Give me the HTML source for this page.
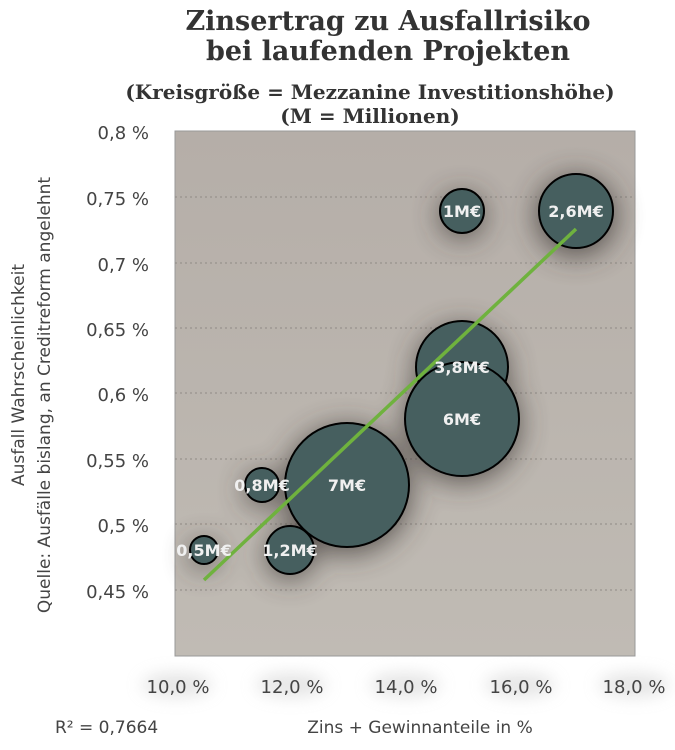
<!DOCTYPE html>
<html><head><meta charset="utf-8"><style>
body{margin:0;background:#fff;width:675px;height:745px;overflow:hidden}
</style></head><body>
<svg width="675" height="745" viewBox="0 0 675 745" xmlns="http://www.w3.org/2000/svg">
<defs>
<linearGradient id="bg" x1="0" y1="0" x2="0" y2="1">
<stop offset="0" stop-color="#b5aea8"/><stop offset="1" stop-color="#c0bbb4"/>
</linearGradient>
<filter id="sh" x="-100%" y="-100%" width="300%" height="300%"><feGaussianBlur stdDeviation="14"/></filter>
<filter id="ts" x="-50%" y="-100%" width="200%" height="300%"><feGaussianBlur stdDeviation="8"/></filter>
</defs>
<rect x="175" y="131" width="460" height="525" fill="url(#bg)" stroke="#999" stroke-width="1"/>
<g stroke="#8f8a85" stroke-dasharray="2,3" stroke-width="1">
<line x1="175" x2="635" y1="197" y2="197"/><line x1="175" x2="635" y1="263" y2="263"/>
<line x1="175" x2="635" y1="328" y2="328"/><line x1="175" x2="635" y1="393" y2="393"/>
<line x1="175" x2="635" y1="459" y2="459"/><line x1="175" x2="635" y1="524" y2="524"/>
<line x1="175" x2="635" y1="590" y2="590"/>
</g>
<g fill="#3a3532" filter="url(#sh)" opacity="0.75">
<circle cx="347" cy="490" r="64"/><circle cx="462" cy="424" r="58"/><circle cx="462" cy="372" r="46"/>
<circle cx="576" cy="216" r="40"/><circle cx="462" cy="216" r="22"/><circle cx="290" cy="555" r="24"/>
<circle cx="262" cy="490" r="17"/><circle cx="204" cy="555" r="14"/>
</g>
<g fill="#ccc" filter="url(#ts)" opacity="0.5">
<ellipse cx="177" cy="685" rx="35" ry="12"/><ellipse cx="291" cy="685" rx="35" ry="12"/>
<ellipse cx="405" cy="685" rx="35" ry="12"/><ellipse cx="520" cy="685" rx="35" ry="12"/>
<ellipse cx="634" cy="685" rx="35" ry="12"/>
</g>
<g fill="#465f5f" stroke="#000" stroke-width="2">
<circle cx="462" cy="367" r="46"/><circle cx="462" cy="419" r="57"/>
<circle cx="347" cy="485" r="62"/>
<circle cx="576" cy="211" r="37"/><circle cx="462" cy="211" r="22"/>
<circle cx="290" cy="550" r="24"/><circle cx="262" cy="485" r="17"/><circle cx="204" cy="550" r="14"/>
</g>
<line x1="204" y1="580" x2="576" y2="229" stroke="#6fb23e" stroke-width="3.5"/>
<g font-family="DejaVu Sans, sans-serif" font-size="16" font-weight="bold" fill="#f0f0f0" text-anchor="middle">
<text x="462" y="373">3,8M€</text><text x="462" y="425">6M€</text><text x="347" y="491">7M€</text>
<text x="576" y="217">2,6M€</text><text x="462" y="217">1M€</text><text x="290" y="556">1,2M€</text>
<text x="262" y="491">0,8M€</text><text x="204" y="556">0,5M€</text>
</g>
<g font-family="DejaVu Sans, sans-serif" font-size="18" fill="#444" text-anchor="end">
<text x="149" y="139">0,8 %</text><text x="149" y="205">0,75 %</text><text x="149" y="271">0,7 %</text>
<text x="149" y="336">0,65 %</text><text x="149" y="401">0,6 %</text><text x="149" y="467">0,55 %</text>
<text x="149" y="532">0,5 %</text><text x="149" y="598">0,45 %</text>
</g>
<g font-family="DejaVu Sans, sans-serif" font-size="18" fill="#444" text-anchor="middle">
<text x="178" y="693">10,0 %</text><text x="292" y="693">12,0 %</text><text x="406" y="693">14,0 %</text>
<text x="521" y="693">16,0 %</text><text x="634" y="693">18,0 %</text>
</g>
<text x="55" y="733" font-family="DejaVu Sans, sans-serif" font-size="17" fill="#444">R² = 0,7664</text>
<text x="420" y="733" font-family="DejaVu Sans, sans-serif" font-size="17" fill="#444" text-anchor="middle">Zins + Gewinnanteile in %</text>
<g font-family="DejaVu Sans, sans-serif" font-size="17" fill="#444" text-anchor="middle">
<text transform="translate(24,375) rotate(-90)">Ausfall Wahrscheinlichkeit</text>
<text transform="translate(50,395) rotate(-90)">Quelle: Ausfälle bislang, an Creditreform angelehnt</text>
</g>
<g font-family="DejaVu Serif, serif" font-weight="bold" fill="#333" text-anchor="middle">
<text x="388" y="30" font-size="27">Zinsertrag zu Ausfallrisiko</text>
<text x="388" y="60" font-size="27">bei laufenden Projekten</text>
<text x="370" y="99" font-size="20">(Kreisgröße = Mezzanine Investitionshöhe)</text>
<text x="370" y="123" font-size="20">(M = Millionen)</text>
</g>
</svg>
</body></html>
